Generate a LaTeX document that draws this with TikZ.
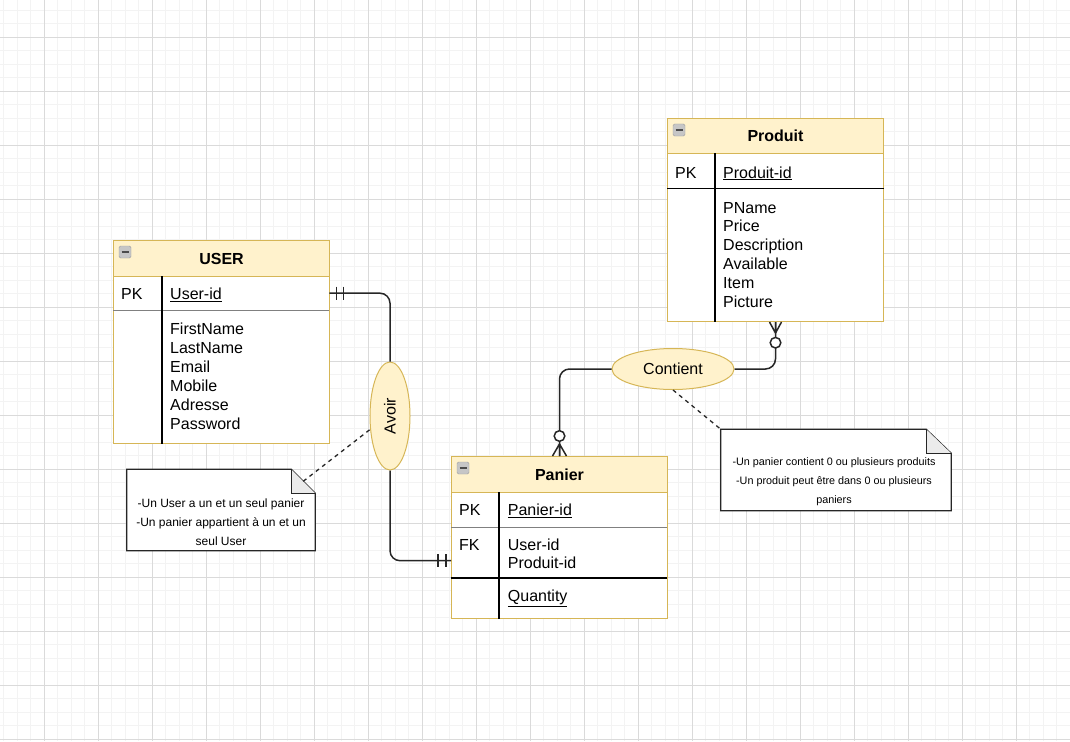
\documentclass[tikz,border=0pt]{standalone}
\usepackage{graphicx}
\usepackage{fontspec}
\setmainfont{Liberation Sans}
\usetikzlibrary{shapes.geometric, positioning}

\definecolor{tblfill}{HTML}{FFF2CC}
\definecolor{tblline}{HTML}{D6B656}
\definecolor{gridmin}{HTML}{F3F3F3}
\definecolor{gridmaj}{HTML}{DADADA}
\definecolor{foldgray}{HTML}{EBEBEB}

\begin{document}
\begin{tikzpicture}[x=1pt, y=-1pt,
  attrtxt/.style={font=\fontsize{16}{19}\selectfont, inner sep=0pt, anchor=base west},
  tbl/.style={draw=tblline, fill=white, line width=1pt, anchor=north west, minimum width=216pt, inner sep=0pt},
  hdr/.style={tbl, fill=tblfill, font=\fontsize{16}{19}\selectfont\bfseries},
  tblrow/.style={anchor=north west, minimum width=216pt, inner sep=0pt},
  icon/.style={draw=gray!75, fill=gray!45, rounded corners=1.5pt, minimum size=12pt, inner sep=0pt},
  rel/.style={ellipse, draw=tblline, fill=tblfill, line width=1pt, inner sep=0pt, font=\fontsize{16}{19}\selectfont},
  conn/.style={line width=1.5pt, black!85, rounded corners=10pt},
  tipline/.style={line width=1.5pt, black!85},
  notebox/.style={minimum height=81pt, inner sep=0pt},
  noteline/.style={draw=black!85, line width=1.3pt},
  notetxt/.style={font=\fontsize{12}{19}\selectfont, align=center, inner sep=0pt},
  notelink/.style={black!85, line width=1.3pt, dash pattern=on 4pt off 4pt}
]
  % background grid
  \useasboundingbox (0,0) rectangle (1070,741);
  \fill[white] (0,0) rectangle (1070,741);
  \foreach \i in {0,...,78} \draw[gridmin, line width=1pt] (3.8+13.5*\i,0) -- ++(0,741);
  \foreach \j in {0,...,54} \draw[gridmin, line width=1pt] (0,10.3+13.5*\j) -- ++(1070,0);
  \foreach \i in {0,...,18} \draw[gridmaj, line width=1pt] (44.3+54*\i,0) -- ++(0,741);
  \foreach \j in {0,...,13} \draw[gridmaj, line width=1pt] (0,37.3+54*\j) -- ++(1070,0);

  % USER
  \node[tbl, minimum height=203pt] (user) at (113,240) {};
  \node[hdr, minimum height=36pt] (user-h) at (113,240) {USER};
  \node[icon] (user-ic) at (125,252) {};
  \draw[black!70, line width=1.5pt] ([xshift=-3.5pt]user-ic.center) -- ([xshift=3.5pt]user-ic.center);
  \node[tblrow, minimum height=34pt] (user-pk) at (113,276) {};
  \draw[gray, line width=1pt] (user-pk.south west) -- (user-pk.south east);
  \draw[line width=1.5pt] ([xshift=49pt]user-pk.north west) -- ([xshift=49pt]user.south west);
  \node[attrtxt] (user-pkl) at (121,299.5) {PK};
  \node[attrtxt] (user-id) at (170,299.5) {\underline{User-id}};
  \foreach \a [count=\i from 0] in {FirstName, LastName, Email, Mobile, Adresse, Password}
    \node[attrtxt] (user-a\i) at (170,334+19*\i) {\a};

  % Produit
  \node[tbl, minimum height=203pt] (produit) at (667,118) {};
  \node[hdr, minimum height=35pt] (produit-h) at (667,118) {Produit};
  \node[icon] (produit-ic) at (679,130) {};
  \draw[black!70, line width=1.5pt] ([xshift=-3.5pt]produit-ic.center) -- ([xshift=3.5pt]produit-ic.center);
  \node[tblrow, minimum height=35pt] (produit-pk) at (667,153) {};
  \draw[black, line width=1.2pt] (produit-pk.south west) -- ([xshift=1pt]produit-pk.south east);
  \draw[line width=1.5pt] ([xshift=48pt]produit-pk.north west) -- ([xshift=48pt]produit.south west);
  \node[attrtxt] (produit-pkl) at (675,178) {PK};
  \node[attrtxt] (produit-id) at (723,178) {\underline{Produit-id}};
  \foreach \a [count=\i from 0] in {PName, Price, Description, Available, Item, Picture}
    \node[attrtxt] (produit-a\i) at (723,213+18.8*\i) {\a};

  % Panier
  \node[tbl, minimum height=162pt] (panier) at (451,456) {};
  \node[hdr, minimum height=36pt] (panier-h) at (451,456) {Panier};
  \node[icon] (panier-ic) at (463,468) {};
  \draw[black!70, line width=1.5pt] ([xshift=-3.5pt]panier-ic.center) -- ([xshift=3.5pt]panier-ic.center);
  \node[tblrow, minimum height=35pt] (panier-pk) at (451,492) {};
  \draw[gray, line width=1pt] (panier-pk.south west) -- (panier-pk.south east);
  \node[tblrow, minimum height=51pt] (panier-fk) at (451,527) {};
  \draw[black, line width=2pt] (panier-fk.south west) -- (panier-fk.south east);
  \draw[line width=1.5pt] ([xshift=48pt]panier-pk.north west) -- ([xshift=48pt]panier.south west);
  \node[attrtxt] (panier-pkl) at (459,515.8) {PK};
  \node[attrtxt] (panier-id) at (507.7,515.8) {\underline{Panier-id}};
  \node[attrtxt] (panier-fkl) at (459,550) {FK};
  \node[attrtxt] (panier-uid) at (507.7,550) {User-id};
  \node[attrtxt] (panier-pid) at (507.7,568.5) {Produit-id};
  \node[attrtxt] (panier-qty) at (507.7,601.8) {\underline{Quantity}};

  % relations
  \node[rel, minimum width=40pt, minimum height=108pt] (avoir) at (390,416) {\rotatebox{90}{Avoir}};
  \node[rel, minimum width=122pt, minimum height=41pt] (contient) at (673,369) {Contient};

  \draw[conn] (user-pk.east) -| (avoir.north);
  \draw[conn] (avoir.south) |- ([yshift=-8pt]panier-fk.west);
  \draw[conn] (contient.west) -| (panier-h.north);
  \draw[conn] (contient.east) -| (produit.south);

  % one and only one
  \foreach \d in {7,14}
    \draw[tipline] ([xshift=\d pt]user-pk.east) ++(0,-6.5) -- ++(0,13);
  \foreach \d in {5,13}
    \draw[tipline] ([xshift=-\d pt, yshift=-8pt]panier-fk.west) ++(0,-6.5) -- ++(0,13);

  % zero or many
  \draw[tipline] ([xshift=-7pt]panier-h.north) -- ([yshift=12pt]panier-h.north) -- ([xshift=7pt]panier-h.north)
    ([yshift=12pt]panier-h.north) -- (panier-h.north);
  \draw[tipline, fill=white] ([yshift=20pt]panier-h.north) circle (5.3pt);
  \draw[tipline] ([xshift=-6pt]produit.south) -- ([yshift=-11pt]produit.south) -- ([xshift=6pt]produit.south)
    ([yshift=-11pt]produit.south) -- (produit.south);
  \draw[tipline, fill=white] ([yshift=-20.7pt]produit.south) circle (5.3pt);

  % notes
  \node[notebox, minimum width=188pt] (note-avoir) at (221,510) {};
  \draw[noteline, fill=white] (note-avoir.south west) -- (note-avoir.north west)
    -- ([xshift=-24pt]note-avoir.north east) -- ([yshift=-24pt]note-avoir.north east)
    -- (note-avoir.south east) -- cycle;
  \draw[noteline, fill=foldgray] ([xshift=-24pt]note-avoir.north east)
    -- ([xshift=-24pt, yshift=-24pt]note-avoir.north east) -- ([yshift=-24pt]note-avoir.north east);
  \node[notetxt] (note-avoir-t) at ([yshift=-12pt]note-avoir.center)
    {-Un User a un et un seul panier\\-Un panier appartient à un et un\\seul User};

  \node[notebox, minimum width=230pt] (note-contient) at (836,470) {};
  \draw[noteline, fill=white] (note-contient.south west) -- (note-contient.north west)
    -- ([xshift=-25pt]note-contient.north east) -- ([yshift=-24pt]note-contient.north east)
    -- (note-contient.south east) -- cycle;
  \draw[noteline, fill=foldgray] ([xshift=-25pt]note-contient.north east)
    -- ([xshift=-25pt, yshift=-24pt]note-contient.north east) -- ([yshift=-24pt]note-contient.north east);
  \node[notetxt, font=\fontsize{10.8}{19}\selectfont] (note-contient-t) at ([xshift=-2pt, yshift=-12pt]note-contient.center)
    {-Un panier contient 0 ou plusieurs produits\\-Un produit peut être dans 0 ou plusieurs\\paniers};

  \draw[notelink] ([xshift=-12pt, yshift=-12pt]note-avoir.north east) -- (avoir.214);
  \draw[notelink] (contient.south) -- (note-contient.north west);
\end{tikzpicture}
\end{document}
